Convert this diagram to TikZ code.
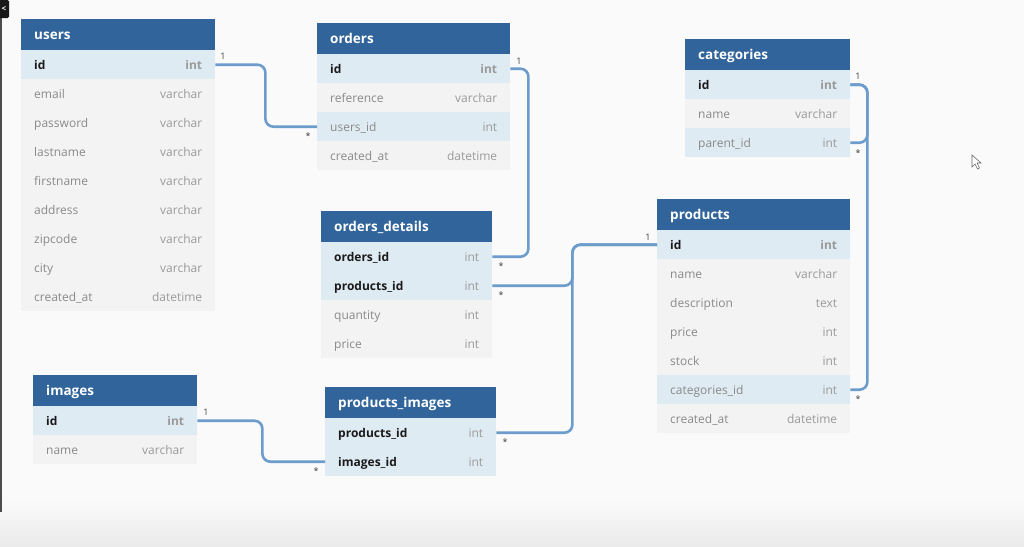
\documentclass[tikz,border=0pt]{standalone}
\usepackage{fontspec}
\setmainfont{Open Sans}
\definecolor{bgc}{HTML}{FAFAFA}
\definecolor{hdrc}{HTML}{31649A}
\definecolor{keyc}{HTML}{DFEBF3}
\definecolor{rowc}{HTML}{F3F3F3}
\definecolor{connc}{HTML}{6C9CCC}
\definecolor{namec}{HTML}{8A8A8A}
\definecolor{typec}{HTML}{9A9A9A}
\definecolor{boldc}{HTML}{1A1A1A}
\newcommand\kn[1]{\textcolor{boldc}{\bfseries #1}}
\newcommand\nn[1]{\textcolor{namec}{#1}}
\newcommand\kt[1]{\textcolor{typec}{\bfseries #1}}
\newcommand\nt[1]{\textcolor{typec}{#1}}
\tikzset{
  hdr/.style={fill=hdrc, text=white, font=\fontsize{13.5}{15}\selectfont\bfseries, minimum height=31pt, text height=11pt, text depth=2pt, inner xsep=13pt, inner ysep=0pt, anchor=north west, align=left},
  krow/.style={fill=keyc, font=\fontsize{12}{14}\selectfont, minimum height=29pt, text height=12pt, text depth=2pt, inner xsep=13pt, inner ysep=0pt, anchor=north west, align=left},
  nrow/.style={krow, fill=rowc},
  conn/.style={draw=connc, line width=2.6pt, rounded corners=8pt},
  card/.style={font=\fontsize{9}{10}\selectfont, text=black!75, inner sep=0pt}
}
\begin{document}
\begin{tikzpicture}[x=1pt,y=-1pt]
\useasboundingbox (0,0) rectangle (1024,546);
\fill[bgc] (0,0) rectangle (1024,546);
\shade[top color=bgc, bottom color=black!8] (0,500) rectangle (1024,546);
\fill[black!70] (0,0) rectangle (1.5,512);
\fill[black!90, rounded corners=1.5pt] (-3,0) rectangle (9,18);
\node[text=white, font=\fontsize{8}{8}\selectfont\bfseries, inner sep=0pt] (tab) at (4,9) {<};
\filldraw[fill=white, draw=black!60, line width=0.6pt] (972,155) -- (972,167) -- (975,164) -- (977.5,169) -- (979.5,168) -- (977,163) -- (981,163) -- cycle;

% users
\node[hdr, text width=168pt] (users) at (21,19) {users};
\node[krow, text width=168pt] (users-id) at (21,50) {\kn{id}\hfill\kt{int}};
\node[nrow, text width=168pt] (users-email) at (21,79) {\nn{email}\hfill\nt{varchar}};
\node[nrow, text width=168pt] (users-password) at (21,108) {\nn{password}\hfill\nt{varchar}};
\node[nrow, text width=168pt] (users-lastname) at (21,137) {\nn{lastname}\hfill\nt{varchar}};
\node[nrow, text width=168pt] (users-firstname) at (21,166) {\nn{firstname}\hfill\nt{varchar}};
\node[nrow, text width=168pt] (users-address) at (21,195) {\nn{address}\hfill\nt{varchar}};
\node[nrow, text width=168pt] (users-zipcode) at (21,224) {\nn{zipcode}\hfill\nt{varchar}};
\node[nrow, text width=168pt] (users-city) at (21,253) {\nn{city}\hfill\nt{varchar}};
\node[nrow, text width=168pt] (users-created) at (21,282) {\nn{created\_at}\hfill\nt{datetime}};

% orders
\node[hdr, text width=167pt] (orders) at (317,23) {orders};
\node[krow, text width=167pt] (orders-id) at (317,54) {\kn{id}\hfill\kt{int}};
\node[nrow, text width=167pt] (orders-ref) at (317,83) {\nn{reference}\hfill\nt{varchar}};
\node[krow, text width=167pt] (orders-uid) at (317,112) {\nn{users\_id}\hfill\nt{int}};
\node[nrow, text width=167pt] (orders-created) at (317,141) {\nn{created\_at}\hfill\nt{datetime}};

% categories
\node[hdr, text width=139pt] (cat) at (685,39) {categories};
\node[krow, text width=139pt] (cat-id) at (685,70) {\kn{id}\hfill\kt{int}};
\node[nrow, text width=139pt] (cat-name) at (685,99) {\nn{name}\hfill\nt{varchar}};
\node[krow, text width=139pt] (cat-parent) at (685,128) {\nn{parent\_id}\hfill\nt{int}};

% orders_details
\node[hdr, text width=145pt] (od) at (321,211) {orders\_details};
\node[krow, text width=145pt] (od-oid) at (321,242) {\kn{orders\_id}\hfill\nt{int}};
\node[krow, text width=145pt] (od-pid) at (321,271) {\kn{products\_id}\hfill\nt{int}};
\node[nrow, text width=145pt] (od-qty) at (321,300) {\nn{quantity}\hfill\nt{int}};
\node[nrow, text width=145pt] (od-price) at (321,329) {\nn{price}\hfill\nt{int}};

% products
\node[hdr, text width=167pt] (prod) at (657,199) {products};
\node[krow, text width=167pt] (prod-id) at (657,230) {\kn{id}\hfill\kt{int}};
\node[nrow, text width=167pt] (prod-name) at (657,259) {\nn{name}\hfill\nt{varchar}};
\node[nrow, text width=167pt] (prod-desc) at (657,288) {\nn{description}\hfill\nt{text}};
\node[nrow, text width=167pt] (prod-price) at (657,317) {\nn{price}\hfill\nt{int}};
\node[nrow, text width=167pt] (prod-stock) at (657,346) {\nn{stock}\hfill\nt{int}};
\node[krow, text width=167pt] (prod-cat) at (657,375) {\nn{categories\_id}\hfill\nt{int}};
\node[nrow, text width=167pt] (prod-created) at (657,404) {\nn{created\_at}\hfill\nt{datetime}};

% images
\node[hdr, text width=138pt] (img) at (33,375) {images};
\node[krow, text width=138pt] (img-id) at (33,406) {\kn{id}\hfill\kt{int}};
\node[nrow, text width=138pt] (img-name) at (33,435) {\nn{name}\hfill\nt{varchar}};

% products_images
\node[hdr, text width=145pt] (pi) at (325,387) {products\_images};
\node[krow, text width=145pt] (pi-pid) at (325,418) {\kn{products\_id}\hfill\nt{int}};
\node[krow, text width=145pt] (pi-iid) at (325,447) {\kn{images\_id}\hfill\nt{int}};

% connectors
\draw[conn] (users-id.east) -- ++(50,0) |- (orders-uid.west);
\draw[conn] (orders-id.east) -- ++(18,0) |- (od-oid.east);
\draw[conn] (od-pid.east) -- ++(80,0) |- (prod-id.west);
\draw[conn] (pi-pid.east) -- ++(76,0) |- (prod-id.west);
\draw[conn] (cat-id.east) -- ++(17,0) |- (cat-parent.east);
\draw[conn] (cat-id.east) -- ++(17,0) |- (prod-cat.east);
\draw[conn] (img-id.east) -- ++(65,0) |- (pi-iid.west);

% cardinalities
\node[card] (c1) at (223,56) {1};
\node[card] (c2) at (308,136) {*};
\node[card] (c3) at (519,61) {1};
\node[card] (c4) at (501,266) {*};
\node[card] (c5) at (648,237) {1};
\node[card] (c6) at (501,295) {*};
\node[card] (c7) at (505,442) {*};
\node[card] (c8) at (858,76) {1};
\node[card] (c9) at (858,153) {*};
\node[card] (c10) at (858,399) {*};
\node[card] (c11) at (206,412) {1};
\node[card] (c12) at (316,471) {*};
\end{tikzpicture}
\end{document}
